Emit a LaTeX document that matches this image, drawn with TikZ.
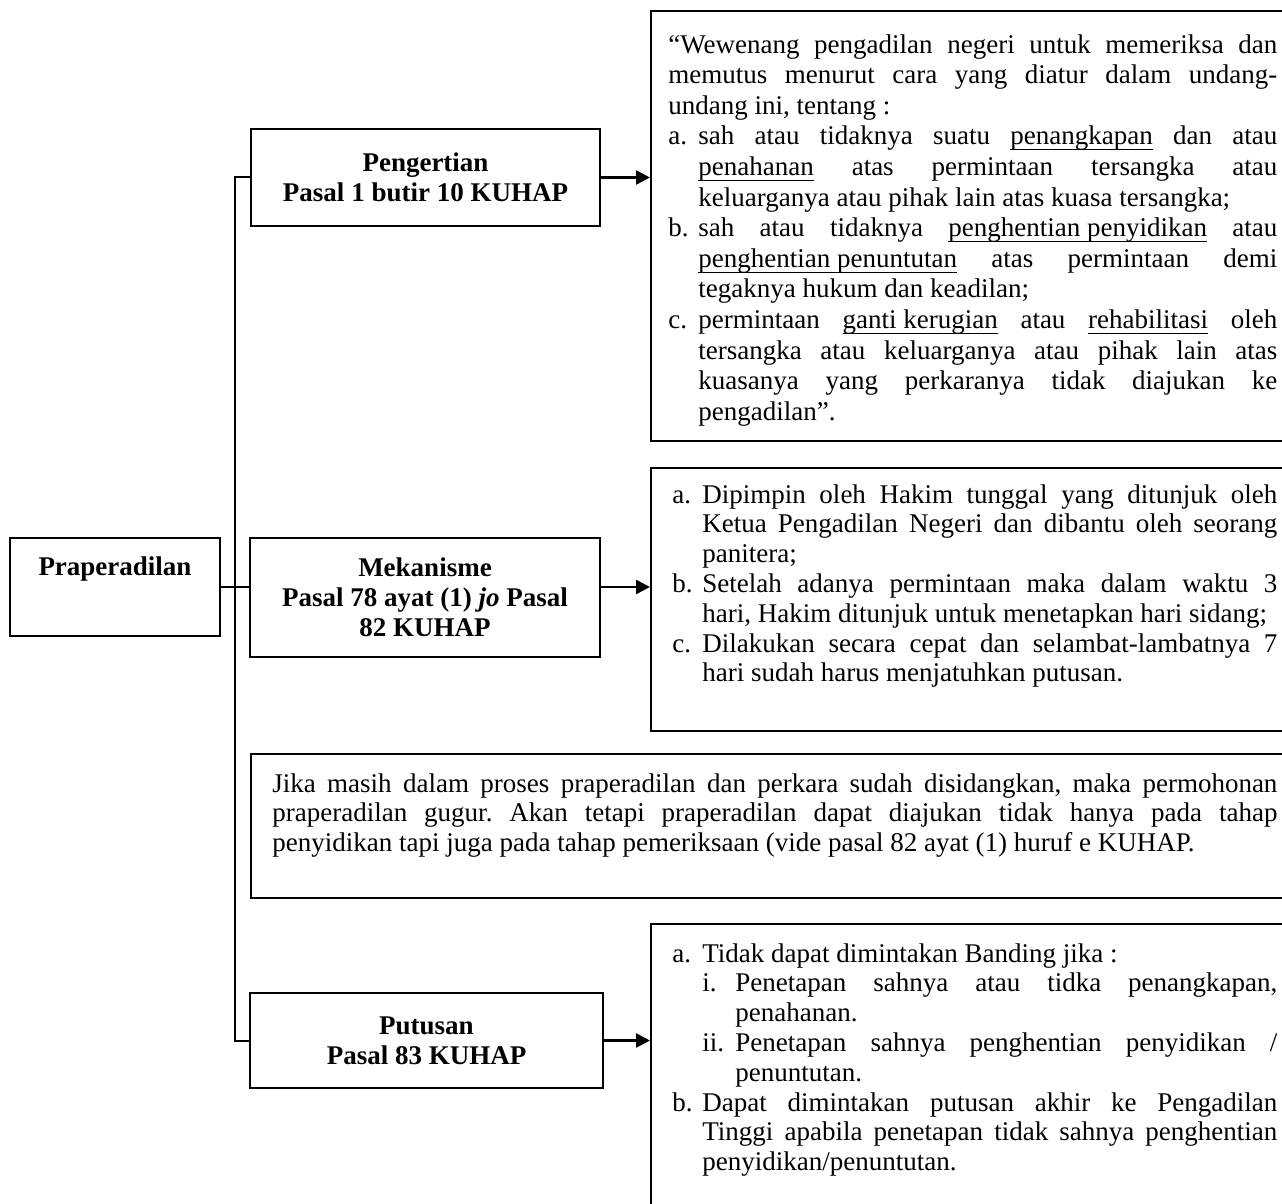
\documentclass[tikz,border=0pt]{standalone}
\usepackage{fontspec}
\setmainfont{Liberation Serif}
\usetikzlibrary{arrows.meta}
\frenchspacing

% column width and hanging indent of the justified text blocks
\newlength\colw
\newlength\hang
\newcommand\jline[1]{\makebox[\colw][s]{#1}}
\newcommand\ilab[1]{\makebox[\hang][l]{#1}}
\newcommand\ijust[1]{\makebox[\dimexpr\colw-\hang\relax][s]{#1}}
\newcommand\icont[1]{\hspace*{\hang}\ijust{#1}}
\newcommand\iragg[1]{\hspace*{\hang}#1}
% underline drawn just under the descenders
\newsavebox\undlbox
\newcommand\undl[1]{\sbox\undlbox{#1}\rlap{\rule[-2.7pt]{\wd\undlbox}{0.55pt}}\usebox\undlbox}

\begin{document}
\begin{tikzpicture}[x=0.5pt,y=-0.5pt,
  frame/.style={draw, line width=1pt, rectangle, inner sep=0pt},
  hdr/.style={frame, align=center, font=\bfseries\fontsize{13.5}{15}\selectfont},
  body/.style={inner sep=0pt, anchor=north west, align=left,
               font=\fontsize{13.5}{14.9}\selectfont},
  link/.style={line width=1pt},
  arr/.style={line width=1.3pt, -{Triangle[length=7pt,width=7pt]}}]

\fill[white] (0,0) rectangle (1282,1204);
\useasboundingbox (0,0) rectangle (1282,1204);
\clip (0,0) rectangle (1282,1204);

% left column: root and the three heading boxes
\node[hdr, minimum width=105pt, minimum height=49pt] (prap) at (115,587) {Praperadilan\\[6pt]\mbox{}};
\node[hdr, minimum width=174.5pt, minimum height=48.5pt] (peng) at (425.5,177.5)
  {Pengertian\\Pasal 1 butir 10 KUHAP};
\node[hdr, minimum width=175pt, minimum height=59.5pt] (mek) at (425,597.5)
  {Mekanisme\\Pasal 78 ayat (1) \textit{jo} Pasal\\82 KUHAP};
\node[hdr, minimum width=176.5pt, minimum height=47.5pt] (put) at (426.5,1040.5)
  {Putusan\\Pasal 83 KUHAP};

% right column frames (running past the right edge)
\node[frame, anchor=north west, minimum width=330pt, minimum height=215pt] (b1) at (650,10) {};
\node[frame, anchor=north west, minimum width=330pt, minimum height=131.5pt] (b2) at (650,467) {};
\node[frame, anchor=north west, minimum width=530pt, minimum height=72pt] (b3) at (250,753) {};
\node[frame, anchor=north west, minimum width=330pt, minimum height=160pt] (b4) at (650,923) {};

% definition text
\setlength\colw{304.5pt}\setlength\hang{15pt}
\node[body, font=\fontsize{13.5}{15.3}\selectfont] (t1) at (668,34) {%
\jline{“Wewenang pengadilan negeri untuk memeriksa dan}\\
\jline{memutus menurut cara yang diatur dalam undang-}\\
undang ini, tentang :\\
\ilab{a.}\ijust{sah atau tidaknya suatu \undl{penangkapan} dan atau}\\
\icont{\undl{penahanan} atas permintaan tersangka atau}\\
\iragg{keluarganya atau pihak lain atas kuasa tersangka;}\\
\ilab{b.}\ijust{sah atau tidaknya \undl{penghentian penyidikan} atau}\\
\icont{\undl{penghentian penuntutan} atas permintaan demi}\\
\iragg{tegaknya hukum dan keadilan;}\\
\ilab{c.}\ijust{permintaan \undl{ganti kerugian} atau \undl{rehabilitasi} oleh}\\
\icont{tersangka atau keluarganya atau pihak lain atas}\\
\icont{kuasanya yang perkaranya tidak diajukan ke}\\
\iragg{pengadilan”.}};

% mechanism text
\setlength\colw{302.5pt}
\node[body] (t2) at (672,484) {%
\ilab{a.}\ijust{Dipimpin oleh Hakim tunggal yang ditunjuk oleh}\\
\icont{Ketua Pengadilan Negeri dan dibantu oleh seorang}\\
\iragg{panitera;}\\
\ilab{b.}\ijust{Setelah adanya permintaan maka dalam waktu 3}\\
\iragg{hari, Hakim ditunjuk untuk menetapkan hari sidang;}\\
\ilab{c.}\ijust{Dilakukan secara cepat dan selambat-lambatnya 7}\\
\iragg{hari sudah harus menjatuhkan putusan.}};

% note text
\setlength\colw{502.5pt}
\node[body] (t3) at (272,773) {%
\jline{Jika masih dalam proses praperadilan dan perkara sudah disidangkan, maka permohonan}\\
\jline{praperadilan gugur. Akan tetapi praperadilan dapat diajukan tidak hanya pada tahap}\\
penyidikan tapi juga pada tahap pemeriksaan (vide pasal 82 ayat (1) huruf e KUHAP.};

% ruling text
\setlength\colw{302.5pt}
\node[body] (t4) at (672,943) {%
\ilab{a.}Tidak dapat dimintakan Banding jika :\\
\hspace*{\hang}\makebox[16.5pt][l]{i.}\makebox[\dimexpr\colw-31.5pt\relax][s]{Penetapan sahnya atau tidka penangkapan,}\\
\hspace*{31.5pt}penahanan.\\
\hspace*{\hang}\makebox[16.5pt][l]{ii.}\makebox[\dimexpr\colw-31.5pt\relax][s]{Penetapan sahnya penghentian penyidikan /}\\
\hspace*{31.5pt}penuntutan.\\
\ilab{b.}\ijust{Dapat dimintakan putusan akhir ke Pengadilan}\\
\icont{Tinggi apabila penetapan tidak sahnya penghentian}\\
\iragg{penyidikan/penuntutan.}};

% connectors
\coordinate (trunk) at (235,587);
\draw[link] (peng.west) -| (trunk) |- (put.west);
\draw[link] (prap.east) -- (prap.east -| mek.west);
\draw[arr] (peng.east) -- (peng.east -| b1.west);
\draw[arr] (mek.east |- prap.east) -- (prap.east -| b2.west);
\draw[arr] (put.east) -- (put.east -| b4.west);
\end{tikzpicture}
\end{document}
